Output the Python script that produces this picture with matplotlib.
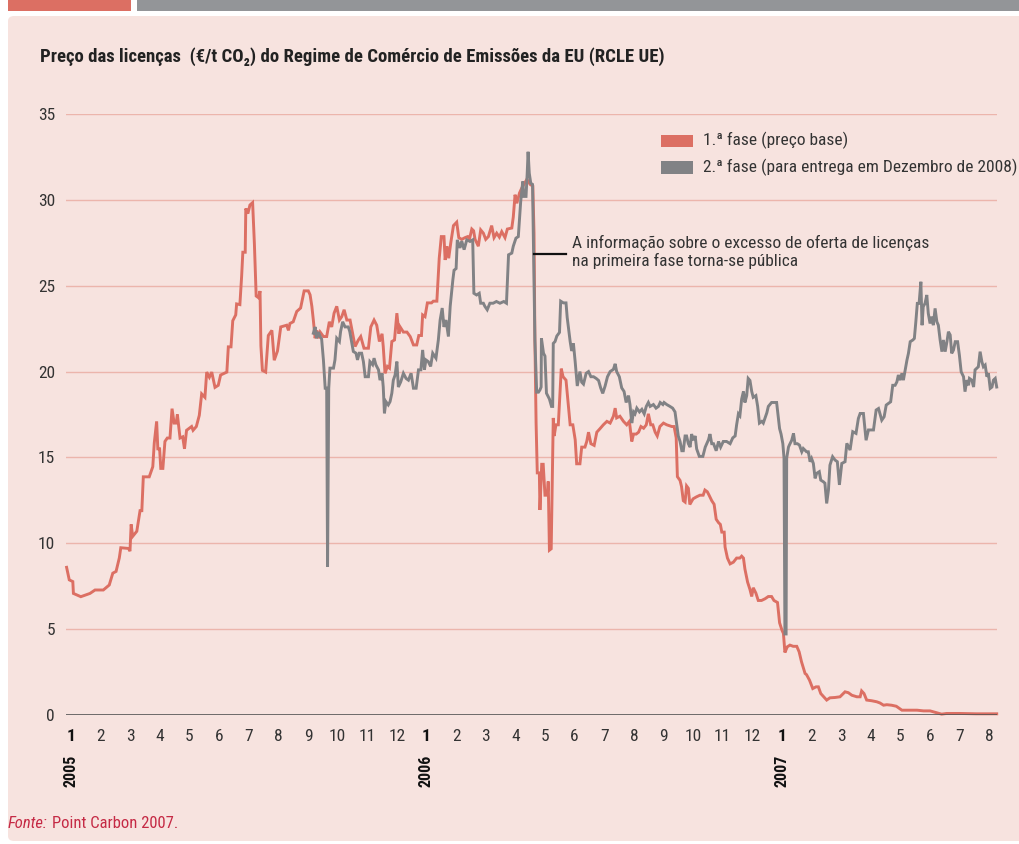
import matplotlib
matplotlib.use("Agg")
import matplotlib.pyplot as plt
from matplotlib.patches import Rectangle, FancyBboxPatch
from matplotlib import font_manager
from matplotlib.transforms import blended_transform_factory

# ---------------- data (time in months since Jan 2005) ----------------
t_phase1 = [-0.15, -0.06, 0.06, 0.08, 0.33, 0.64, 0.81, 1.09, 1.29, 1.41, 1.52, 1.63, 1.68, 1.94, 1.99,
            2.03, 2.08, 2.22, 2.33, 2.39, 2.44, 2.64, 2.76, 2.81, 2.89, 2.93, 2.99, 3.03, 3.1, 3.17,
            3.25, 3.34, 3.41, 3.48, 3.55, 3.59, 3.68, 3.77, 3.83, 3.9, 4.07, 4.12, 4.23, 4.33, 4.41,
            4.52, 4.58, 4.67, 4.75, 4.86, 4.97, 5.05, 5.26, 5.31, 5.4, 5.46, 5.56, 5.59, 5.7, 5.76,
            5.8, 5.88, 5.9, 5.97, 6.04, 6.13, 6.19, 6.25, 6.33, 6.38, 6.41, 6.46, 6.57, 6.66, 6.78,
            6.86, 6.97, 7.08, 7.28, 7.34, 7.39, 7.5, 7.62, 7.75, 7.87, 8.01, 8.07, 8.13, 8.18, 8.24,
            8.30, 8.35, 8.41, 8.52, 8.63, 8.72, 8.8, 8.88, 8.97, 9.06, 9.14, 9.22, 9.31, 9.42, 9.51,
            9.59, 9.7, 9.78, 9.89, 10.04, 10.12, 10.23, 10.32, 10.41, 10.5, 10.54, 10.6, 10.68, 10.75,
            10.83, 10.92, 11.0, 11.07, 11.11, 11.22, 11.34, 11.45, 11.56, 11.67, 11.74, 11.83, 11.87,
            11.95, 12.03, 12.17, 12.23, 12.35, 12.43, 12.5, 12.59, 12.63, 12.69, 12.75, 12.82, 12.91,
            13.02, 13.09, 13.19, 13.3, 13.39, 13.45, 13.53, 13.59, 13.64, 13.75, 13.83, 13.92, 14.0,
            14.09, 14.2, 14.28, 14.37, 14.46, 14.54, 14.65, 14.73, 14.88, 14.93, 14.99, 15.05, 15.14,
            15.22, 15.39, 15.5, 15.59, 15.63, 15.66, 15.7, 15.74, 15.81, 15.83, 15.89, 15.94, 16.0,
            16.08, 16.11, 16.15, 16.21, 16.28, 16.31, 16.37, 16.45, 16.55, 16.61, 16.71, 16.79, 16.85,
            16.94, 17.02, 17.07, 17.18, 17.24, 17.35, 17.41, 17.47, 17.55, 17.66, 17.75, 17.86, 17.97,
            18.09, 18.2, 18.31, 18.37, 18.42, 18.53, 18.65, 18.76, 18.85, 18.93, 18.99, 19.08, 19.16,
            19.24, 19.33, 19.42, 19.49, 19.57, 19.64, 19.72, 19.79, 19.88, 20.0, 20.11, 20.28, 20.36,
            20.43, 20.47, 20.56, 20.61, 20.67, 20.73, 20.78, 20.84, 20.89, 21.0, 21.11, 21.23, 21.34,
            21.4, 21.48, 21.54, 21.63, 21.71, 21.78, 21.86, 21.92, 21.97, 22.05, 22.08, 22.16, 22.25,
            22.36, 22.47, 22.58, 22.64, 22.7, 22.75, 22.84, 22.92, 22.98, 23.03, 23.12, 23.2, 23.31,
            23.43, 23.54, 23.65, 23.73, 23.85, 23.92, 24.0, 24.05, 24.1, 24.18, 24.27, 24.38, 24.5,
            24.58, 24.66, 24.78, 24.83, 24.93, 25.04, 25.15, 25.23, 25.31, 25.46, 25.51, 25.62, 25.79,
            25.96, 26.13, 26.24, 26.36, 26.53, 26.64, 26.69, 26.77, 26.86, 27.03, 27.2, 27.31, 27.43,
            27.54, 27.7, 27.86, 28.05, 28.22, 28.56, 28.78, 29.0, 29.23, 29.39, 29.56, 30.0, 30.56,
            31.25]
v_phase1 = [8.6, 7.87, 7.77, 7.08, 6.89, 7.08, 7.28, 7.28, 7.57, 8.26, 8.36, 9.15, 9.74, 9.7, 9.54,
            11.1, 10.4, 10.7, 11.9, 11.9, 13.87, 13.87, 14.46, 15.84, 17.1, 15.5, 15.5, 14.36, 14.36, 15.93,
            16.13, 16.13, 17.84, 17.0, 17.0, 17.5, 16.13, 16.2, 15.5, 16.58, 16.8, 16.58, 16.8, 17.45, 18.7,
            18.5, 19.97, 19.67, 19.97, 19.08, 19.2, 19.8, 19.97, 21.44, 21.44, 22.96, 23.3, 23.94, 23.9, 25.57,
            26.95, 26.95, 29.5, 29.2, 29.7, 29.84, 27.44, 24.4, 24.3, 24.69, 21.5, 20.07, 19.97, 22.1, 22.4,
            20.66, 21.2, 22.6, 22.7, 22.4, 22.8, 22.9, 23.5, 23.7, 24.7, 24.7, 24.47, 23.8, 23.0, 21.94,
            22.4, 21.94, 22.3, 22.04, 22.04, 22.9, 22.6, 23.4, 23.8, 23.0, 23.2, 23.6, 23.0, 23.0, 22.2,
            21.46, 21.84, 22.04, 21.36, 21.36, 22.6, 23.0, 22.7, 21.75, 22.2, 21.46, 19.9, 20.3, 20.2,
            21.75, 21.84, 23.4, 22.2, 22.6, 22.3, 22.3, 22.04, 21.55, 21.55, 22.1, 22.1, 23.3,
            23.2, 24.0, 24.0, 24.1, 24.1, 26.6, 27.86, 27.86, 26.5, 27.3, 26.6, 27.5, 28.5,
            28.7, 27.8, 27.7, 27.8, 27.86, 27.7, 28.3, 28.2, 27.7, 27.3, 28.25, 28.06, 27.7,
            27.86, 28.5, 27.8, 28.06, 27.83, 28.15, 27.8, 28.3, 28.36, 29.0, 30.3, 29.8, 30.4,
            30.7, 31.2, 30.9, 30.8, 28.06, 21.8, 17.0, 14.1, 14.1, 11.94, 14.6, 14.6, 12.8,
            12.8, 13.6, 9.6, 9.68, 17.3, 16.25, 16.9, 16.9, 20.17, 19.7, 19.5, 18.0, 16.9,
            16.9, 16.03, 14.63, 14.63, 15.6, 15.6, 15.93, 16.47, 15.8, 15.7, 16.47, 16.68, 16.9,
            17.1, 17.0, 17.4, 17.87, 17.3, 17.4, 17.1, 16.9, 17.1, 15.93, 16.36, 16.36, 16.47,
            16.8, 16.7, 16.9, 17.54, 16.9, 16.9, 16.47, 16.25, 16.8, 17.0, 16.9, 16.8, 16.8,
            16.14, 13.88, 13.66, 13.3, 12.48, 12.4, 13.34, 13.2, 12.26, 12.59, 12.7, 12.8, 12.8,
            13.1, 13.0, 12.8, 12.48, 12.27, 11.4, 11.2, 11.1, 10.65, 10.65, 9.78, 9.14, 8.8,
            8.9, 9.14, 9.14, 9.25, 9.14, 8.5, 7.74, 7.31, 6.9, 7.41, 7.1, 6.67, 6.67,
            6.77, 6.9, 6.9, 6.67, 6.55, 5.37, 4.94, 4.75, 3.64, 3.97, 4.07, 4.0, 4.0,
            3.68, 3.1, 2.42, 2.35, 2.03, 1.54, 1.64, 1.64, 1.25, 0.96, 0.87, 1.0, 1.02,
            1.06, 1.35, 1.3, 1.15, 1.06, 1.06, 1.4, 1.25, 0.87, 0.83, 0.77, 0.7, 0.57,
            0.6, 0.57, 0.51, 0.28, 0.28, 0.28, 0.24, 0.24, 0.13, 0.05, 0.09, 0.09, 0.07,
            0.07]

t_phase2 = [8.18, 8.24, 8.29, 8.35, 8.41, 8.46, 8.52, 8.58, 8.63, 8.66, 8.7, 8.74, 8.86, 8.91, 8.97,
            9.06, 9.1, 9.17, 9.25, 9.36, 9.41, 9.47, 9.53, 9.62, 9.67, 9.73, 9.81, 9.87, 9.93, 10.04,
            10.09, 10.18, 10.23, 10.29, 10.38, 10.43, 10.5, 10.54, 10.58, 10.63, 10.71, 10.77, 10.83,
            10.88, 10.94, 11.0, 11.05, 11.13, 11.22, 11.31, 11.39, 11.48, 11.56, 11.65, 11.73, 11.81,
            11.87, 11.93, 11.98, 12.06, 12.14, 12.21, 12.32, 12.4, 12.46, 12.53, 12.59, 12.66, 12.74,
            12.8, 12.89, 12.93, 13.0, 13.04, 13.13, 13.19, 13.27, 13.36, 13.47, 13.56, 13.6, 13.69,
            13.78, 13.83, 13.92, 13.97, 14.05, 14.14, 14.25, 14.36, 14.48, 14.61, 14.7, 14.77, 14.88,
            14.93, 15.02, 15.1, 15.18, 15.25, 15.29, 15.36, 15.4, 15.43, 15.47, 15.52, 15.58, 15.66,
            15.72, 15.78, 15.83, 15.87, 15.88, 15.95, 16.0, 16.05, 16.15, 16.22, 16.26, 16.28, 16.34,
            16.4, 16.49, 16.53, 16.62, 16.71, 16.75, 16.85, 16.9, 16.96, 17.02, 17.09, 17.18, 17.24,
            17.3, 17.39, 17.47, 17.55, 17.64, 17.73, 17.81, 17.88, 17.95, 18.03, 18.11, 18.2, 18.31,
            18.37, 18.42, 18.51, 18.59, 18.67, 18.74, 18.82, 18.87, 18.93, 18.99, 19.04, 19.1, 19.19,
            19.27, 19.35, 19.42, 19.49, 19.55, 19.66, 19.75, 19.83, 19.89, 19.98, 20.02, 20.11, 20.22,
            20.31, 20.39, 20.45, 20.5, 20.56, 20.62, 20.67, 20.73, 20.78, 20.84, 20.9, 20.95, 21.01,
            21.07, 21.12, 21.21, 21.33, 21.41, 21.52, 21.57, 21.63, 21.69, 21.78, 21.86, 21.93, 22.02,
            22.13, 22.25, 22.34, 22.42, 22.47, 22.53, 22.58, 22.64, 22.7, 22.75, 22.81, 22.86, 22.92,
            22.98, 23.03, 23.12, 23.18, 23.24, 23.32, 23.37, 23.49, 23.54, 23.65, 23.82, 23.92, 23.97,
            24.03, 24.07, 24.1, 24.14, 24.16, 24.22, 24.25, 24.33, 24.39, 24.44, 24.52, 24.59, 24.67,
            24.72, 24.83, 24.89, 24.95, 25.0, 25.06, 25.12, 25.17, 25.26, 25.31, 25.4, 25.45, 25.51,
            25.57, 25.62, 25.71, 25.79, 25.87, 25.94, 26.02, 26.13, 26.19, 26.3, 26.39, 26.5, 26.58,
            26.64, 26.75, 26.84, 26.92, 27.09, 27.18, 27.26, 27.37, 27.45, 27.52, 27.6, 27.67, 27.74,
            27.82, 27.88, 27.93, 27.99, 28.05, 28.1, 28.16, 28.22, 28.27, 28.33, 28.42, 28.47, 28.52,
            28.57, 28.63, 28.69, 28.73, 28.77, 28.83, 28.89, 28.94, 29.0, 29.06, 29.11, 29.17, 29.23,
            29.28, 29.34, 29.4, 29.45, 29.51, 29.57, 29.62, 29.68, 29.73, 29.79, 29.85, 29.93, 29.99,
            30.05, 30.13, 30.18, 30.24, 30.3, 30.33, 30.41, 30.47, 30.52, 30.58, 30.63, 30.69, 30.75,
            30.8, 30.86, 30.92, 30.97, 31.03, 31.09, 31.14, 31.2, 31.25]
v_phase2 = [22.23, 22.6, 21.94, 22.3, 22.04, 21.9, 20.68, 19.03, 19.03, 8.64, 19.03, 20.2, 20.2, 20.68, 21.94,
            21.75, 22.33, 22.9, 22.6, 22.6, 22.33, 21.75, 21.17, 21.07, 20.68, 21.07, 21.07, 20.58, 19.7, 19.7,
            20.58, 20.4, 20.78, 20.4, 20.1, 19.5, 19.9, 19.1, 17.57, 18.25, 18.06, 18.25, 18.74,
            19.5, 19.8, 20.58, 19.1, 19.4, 19.9, 19.6, 19.5, 19.9, 19.03, 19.03, 20.1, 20.1,
            21.26, 20.1, 20.68, 20.58, 20.3, 21.07, 20.78, 21.84, 23.0, 23.7, 22.6, 23.0, 22.04,
            23.8, 25.34, 25.9, 26.0, 27.67, 27.2, 27.6, 27.1, 27.67, 27.58, 27.67, 24.56, 24.46,
            24.56, 23.98, 23.98, 23.8, 23.6, 23.98, 23.98, 24.08, 23.98, 24.08, 23.98, 26.8, 26.9,
            27.3, 27.77, 27.86, 29.9, 31.07, 30.2, 30.2, 31.55, 32.8, 31.55, 30.97, 30.9, 21.84,
            18.8, 18.8, 18.93, 19.1, 21.94, 21.07, 20.9, 18.74, 18.4, 17.97, 17.97, 21.64, 21.75,
            22.07, 22.28, 24.1, 24.0, 24.0, 23.15, 21.75, 21.2, 21.64, 20.56, 19.16, 20.0, 19.38,
            19.27, 19.9, 20.0, 19.7, 19.7, 19.6, 19.48, 19.05, 18.73, 19.16, 19.7, 20.0, 20.13,
            20.45, 20.0, 19.7, 19.05, 18.84, 18.2, 18.6, 18.08, 17.0, 17.65, 17.54, 17.87, 17.65,
            17.8, 17.54, 17.97, 18.2, 17.97, 18.08, 17.87, 17.97, 18.2, 18.08, 18.2, 18.08, 17.97,
            17.87, 17.65, 16.9, 16.25, 15.93, 15.39, 15.39, 16.25, 16.25, 15.8, 15.6, 16.36, 16.0,
            16.25, 15.5, 15.06, 15.06, 15.6, 16.03, 16.36, 15.8, 15.8, 15.39, 15.93, 15.6, 15.93,
            15.93, 15.8, 16.14, 16.25, 16.9, 17.54, 17.43, 18.4, 18.84, 18.2, 18.6, 19.6, 19.48,
            18.84, 18.5, 18.6, 17.97, 17.0, 17.1, 17.0, 17.6, 17.97, 18.2, 18.2, 16.68, 16.36,
            15.8, 14.96, 4.72, 4.72, 14.96, 15.6, 15.72, 16.0, 16.4, 15.8, 15.8, 15.72, 15.33,
            15.52, 15.33, 15.33, 14.75, 14.94, 14.65, 13.78, 14.07, 14.17, 13.68, 13.58, 13.5, 12.32,
            13.1, 14.55, 15.04, 14.85, 14.75, 13.4, 14.65, 14.75, 15.82, 15.43, 16.5, 16.4, 17.27,
            17.56, 17.56, 16.0, 16.6, 16.6, 17.76, 17.85, 17.17, 17.37, 18.05, 18.15, 18.24, 19.2,
            19.2, 19.4, 19.8, 19.5, 19.9, 19.5, 20.1, 20.67, 21.06, 21.74, 21.84, 21.93, 22.9,
            23.97, 23.97, 25.23, 22.7, 23.78, 23.97, 24.46, 23.39, 22.8, 23.2, 22.7, 23.68, 22.9,
            22.7, 21.84, 21.16, 21.84, 21.16, 21.74, 22.32, 22.13, 21.06, 21.25, 21.74, 21.74, 20.96,
            19.99, 19.7, 18.83, 19.5, 19.2, 19.6, 19.5, 19.1, 20.1, 20.2, 20.28, 21.16, 20.57,
            20.28, 20.38, 19.7, 19.9, 19.02, 19.1, 19.5, 19.6, 19.1]

month_labels = ['1', '2', '3', '4', '5', '6', '7', '8', '9', '10', '11', '12',
                '1', '2', '3', '4', '5', '6', '7', '8', '9', '10', '11', '12',
                '1', '2', '3', '4', '5', '6', '7', '8']
year_labels = ['2005', '2006', '2007']
y_ticks = [0, 5, 10, 15, 20, 25, 30, 35]

series_names = ['1.ª fase (preço base)', '2.ª fase (para entrega em Dezembro de 2008)']
title = 'Preço das licenças  (€/t CO₂) do Regime de Comércio de Emissões da EU (RCLE UE)'
annotation = 'A informação sobre o excesso de oferta de licenças\nna primeira fase torna-se pública'

# ---------------- fonts ----------------
fonts = font_manager.fontManager.ttflist
names = {f.name for f in fonts}
STRETCH = 'normal'
FONT = None
for cand in ['Liberation Sans Narrow', 'Roboto Condensed', 'Open Sans Condensed',
             'Noto Sans Condensed', 'DejaVu Sans Condensed']:
    if cand in names:
        FONT = cand
        break
if FONT is None:
    if any(f.name == 'DejaVu Sans' and f.stretch == 'condensed' for f in fonts):
        FONT = 'DejaVu Sans'
        STRETCH = 'condensed'
    else:
        FONT = 'Roboto'
plt.rcParams['font.family'] = [FONT, 'DejaVu Sans']
plt.rcParams['font.stretch'] = STRETCH
narrow = FONT != 'Roboto'
SZ = 12.5 if narrow else 11.0

RED = '#dc6f63'
GREY = '#818285'
PINK = '#f7e3df'
GRID = '#ecb5ac'
TXT = '#333333'
SRC = '#c52a45'

W, H = 1019, 844
fig = plt.figure(figsize=(W / 100, H / 100), dpi=100)
fig.patch.set_facecolor('white')

def fx(px):
    return px / W

def fy(py):
    return 1 - py / H

# top bars
fig.add_artist(Rectangle((fx(8), fy(11)), fx(131) - fx(8), fy(0) - fy(11),
                         transform=fig.transFigure, color=RED, lw=0, zorder=-5))
fig.add_artist(Rectangle((fx(137), fy(11)), fx(1019) - fx(137), fy(0) - fy(11),
                         transform=fig.transFigure, color='#939598', lw=0, zorder=-5))
# pink panel
fig.add_artist(FancyBboxPatch((fx(8), fy(841)), fx(1030) - fx(8), fy(16) - fy(841),
                              boxstyle='round,pad=0,rounding_size=0.006',
                              transform=fig.transFigure, facecolor=PINK, edgecolor='none',
                              zorder=-5))

ax_left, ax_right, ax_top, ax_bottom = 66, 997, 114, 715
ax = fig.add_axes([fx(ax_left), fy(ax_bottom), fx(ax_right) - fx(ax_left), fy(ax_top) - fy(ax_bottom)])
ax.set_zorder(2)
ax.set_facecolor('none')
ax.set_xlim(-0.17, 31.26)
ax.set_ylim(0, 35)

for y in y_ticks[1:]:
    ax.axhline(y, color=GRID, lw=1.0, zorder=1)
ax.axhline(0, color='#555555', lw=1.2, zorder=4)

ax.plot(t_phase1, v_phase1, color=RED, lw=2.1, zorder=2, solid_joinstyle='miter',
        label=series_names[0], clip_on=False)
ax.plot(t_phase2, v_phase2, color=GREY, lw=2.1, zorder=3, solid_joinstyle='miter',
        label=series_names[1], clip_on=False)

for s in ax.spines.values():
    s.set_visible(False)

ax.set_yticks(y_ticks)
ax.set_yticklabels([str(y) for y in y_ticks], fontsize=SZ, color=TXT)
ax.tick_params(axis='y', length=0, pad=8)

ax.set_xticks(range(len(month_labels)))
ax.set_xticklabels(month_labels, fontsize=SZ, color=TXT)
ax.tick_params(axis='x', length=0, pad=10)
for i, lab in enumerate(ax.get_xticklabels()):
    if month_labels[i] == '1':
        lab.set_fontweight('bold')
        lab.set_color('#111111')

trans = blended_transform_factory(ax.transData, fig.transFigure)
for k, yr in enumerate(year_labels):
    ax.text(12 * k, fy(771), yr, transform=trans, rotation=90, ha='center', va='center',
            fontsize=SZ - 1, fontweight='bold', color='#111111')

# legend
for i, (name, col) in enumerate(zip(series_names, [RED, GREY])):
    yc = 140.5 + 27 * i
    fig.add_artist(Rectangle((fx(661), fy(yc + 6)), fx(693) - fx(661), fy(yc - 6) - fy(yc + 6),
                             transform=fig.transFigure, color=col, lw=0))
    fig.text(fx(703), fy(yc), name, ha='left', va='center', fontsize=SZ, color=TXT)

# annotation
fig.add_artist(plt.Line2D([fx(534), fx(566)], [fy(254), fy(254)], transform=fig.transFigure,
                          color='#111111', lw=1.6, zorder=5))
fig.text(fx(572), fy(252), annotation, ha='left', va='center', fontsize=SZ, color=TXT,
         linespacing=1.15)

# title
fig.text(fx(40), fy(57), title, ha='left', va='center', fontsize=SZ + 1.0, fontweight='bold',
         color='#222222')

# source
src1 = fig.text(fx(8), fy(823), 'Fonte:', ha='left', va='center', fontsize=SZ - 0.5,
                style='italic', color=SRC)
fig.canvas.draw()
bb = src1.get_window_extent()
fig.text((bb.x1 + 4) / W, fy(823), 'Point Carbon 2007.', ha='left', va='center',
         fontsize=SZ - 0.5, color=SRC)

fig.savefig('out.png', dpi=100, facecolor='white')
